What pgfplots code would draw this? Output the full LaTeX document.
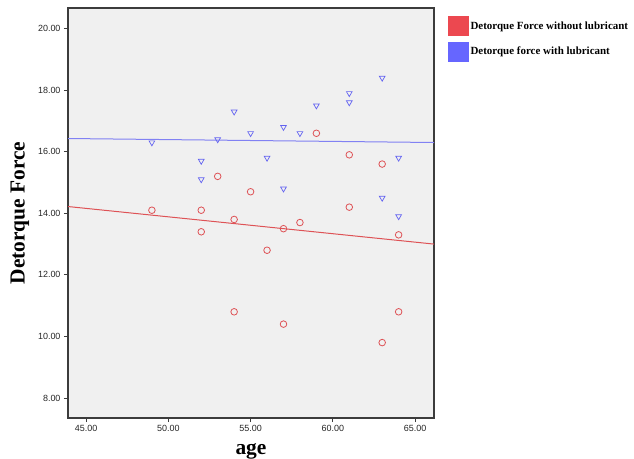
\documentclass[border=0pt]{standalone}
\usepackage{pgfplots}
\pgfplotsset{compat=1.18}
\usepackage{fontspec}
\setmainfont{Liberation Serif}
\setsansfont{Liberation Sans}

\definecolor{redc}{RGB}{222,82,86}
\definecolor{bluec}{RGB}{98,98,240}
\definecolor{redleg}{RGB}{236,72,80}
\definecolor{blueleg}{RGB}{102,102,255}
\definecolor{bgc}{RGB}{240,240,240}
\definecolor{framec}{RGB}{60,60,60}

\begin{document}
\begin{tikzpicture}
\useasboundingbox (0,0) rectangle (634bp,459bp);
\begin{axis}[
    at={(68bp,41bp)}, anchor=south west,
    scale only axis,
    width=366bp, height=410bp,
    xmin=43.9, xmax=66.15,
    ymin=7.35, ymax=20.67,
    xtick={45,50,55,60,65},
    ytick={8,10,12,14,16,18,20},
    xtick pos=left, ytick pos=left,
    tick align=outside,
    major tick length=4bp,
    every tick/.style={draw=framec, line width=0.8bp},
    axis line style={draw=framec, line width=1.2bp},
    axis background/.style={fill=bgc},
    tick label style={font=\sffamily\fontsize{9}{9}\selectfont, text=black!85},
    /pgf/number format/assume math mode=true,
    /pgf/number format/fixed,
    /pgf/number format/fixed zerofill,
    /pgf/number format/precision=2,
    xlabel={\bfseries\fontsize{21.5}{22}\selectfont age},
    ylabel={\bfseries\fontsize{21.5}{22}\selectfont Detorque Force},
    xlabel style={yshift=-5bp},
    ylabel style={yshift=2bp},
    legend style={at={(1.03,0.985)}, anchor=north west, draw=none, fill=none,
        font=\bfseries\fontsize{11}{11}\selectfont, row sep=6bp,
        /tikz/every even column/.append style={column sep=2bp}},
    legend cell align=left,
]
\addlegendimage{legend image code/.code={\fill[redleg] (0bp,-9.5bp) rectangle (20bp,9.5bp);}}
\addlegendentry{Detorque Force without lubricant}
\addlegendimage{legend image code/.code={\fill[blueleg] (0bp,-9.5bp) rectangle (20bp,9.5bp);}}
\addlegendentry{Detorque force with lubricant}

% fit lines
\addplot[draw=bluec!80, line width=1bp, forget plot] coordinates {(43.9,16.43) (66.15,16.30)};
\addplot[draw=redc, line width=1bp, forget plot] coordinates {(43.9,14.22) (66.15,13.00)};

% without lubricant
\addplot[only marks, mark=o, mark size=3.3bp, mark options={draw=redc, line width=0.8bp}, forget plot] coordinates {
(49,14.1) (52,14.1) (52,13.4) (53,15.2) (54,13.8) (54,10.8) (55,14.7) (56,12.8)
(57,13.5) (57,10.4) (58,13.7) (59,16.6) (61,15.9) (61,14.2) (63,15.6) (63,9.8)
(64,13.3) (64,10.8)
};
% with lubricant
\addplot[only marks, mark=triangle, mark size=3.3bp, mark options={draw=bluec, line width=0.7bp, rotate=180}, forget plot] coordinates {
(49,16.3) (52,15.7) (52,15.1) (53,16.4) (54,17.3) (55,16.6) (56,15.8) (57,16.8)
(57,14.8) (58,16.6) (59,17.5) (61,17.9) (61,17.6) (63,18.4) (63,14.5) (64,15.8)
(64,13.9)
};
\end{axis}
\end{tikzpicture}
\end{document}
